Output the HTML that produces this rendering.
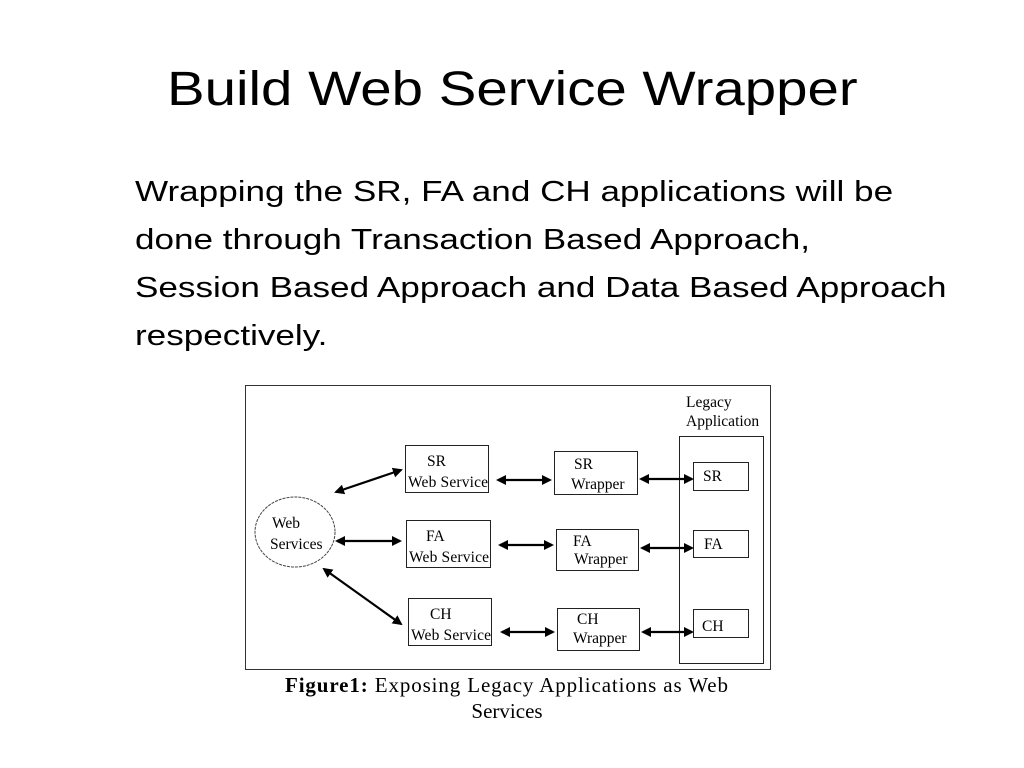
<!DOCTYPE html>
<html><head><style>
body{margin:0;width:1024px;height:768px;background:#fff;position:relative;overflow:hidden;font-family:"Liberation Sans",sans-serif}
h1{position:absolute;top:62px;left:167px;margin:0;font-weight:normal;font-size:48px;color:#000;white-space:nowrap;transform:scaleX(1.175);transform-origin:0 0}
.p{position:absolute;left:135px;top:168px;font-size:29px;line-height:48px;color:#000;white-space:nowrap;transform:scaleX(1.21);transform-origin:0 0}
svg{position:absolute;left:0;top:0}
</style></head><body>
<h1>Build Web Service Wrapper</h1>
<div class="p">Wrapping the SR, FA and CH applications will be<br>done through Transaction Based Approach,<br>Session Based Approach and Data Based Approach<br>respectively.</div>
<svg width="1024" height="768" font-family="Liberation Serif, serif" font-size="15.5">
<defs><marker id="a" markerWidth="10" markerHeight="10" refX="8" refY="5" orient="auto-start-reverse" markerUnits="userSpaceOnUse"><path d="M0,0 L10,5 L0,10 z" fill="#000"/></marker></defs>
<rect x="245.5" y="385.5" width="525" height="284" fill="#fff" stroke="#333"/>
<ellipse cx="295" cy="532" rx="40" ry="35" fill="#fff" stroke="#444" stroke-dasharray="3,1"/>
<text x="272" y="528">Web</text><text x="270" y="549">Services</text>
<g fill="#fff" stroke="#222">
<rect x="405.5" y="445.5" width="83" height="47"/>
<rect x="406.5" y="520.5" width="84" height="47"/>
<rect x="408.5" y="598.5" width="83" height="47"/>
<rect x="554.5" y="451.5" width="83" height="43"/>
<rect x="556.5" y="529.5" width="82" height="41"/>
<rect x="557.5" y="608.5" width="82" height="42"/>
<rect x="679.5" y="436.5" width="84" height="227"/>
<rect x="693.5" y="462.5" width="55" height="28"/>
<rect x="693.5" y="530.5" width="55" height="27"/>
<rect x="693.5" y="609.5" width="55" height="28"/>
</g>
<text x="427" y="466">SR</text><text x="408" y="487" textLength="80">Web Service</text>
<text x="426" y="541">FA</text><text x="409" y="562" textLength="80">Web Service</text>
<text x="430" y="619">CH</text><text x="411" y="640" textLength="80">Web Service</text>
<text x="574" y="469">SR</text><text x="571" y="489">Wrapper</text>
<text x="573" y="546">FA</text><text x="574" y="564">Wrapper</text>
<text x="577" y="624">CH</text><text x="573" y="643">Wrapper</text>
<text x="703" y="481">SR</text><text x="704" y="549">FA</text><text x="702" y="631">CH</text>
<text x="686" y="407">Legacy</text><text x="686" y="426">Application</text>
<g stroke="#000" stroke-width="2.2" marker-start="url(#a)" marker-end="url(#a)">
<line x1="336" y1="492" x2="401" y2="470"/>
<line x1="337" y1="541" x2="400" y2="541"/>
<line x1="324" y1="569" x2="401" y2="624"/>
<line x1="498" y1="480" x2="550" y2="480"/>
<line x1="500" y1="545" x2="552" y2="545"/>
<line x1="502" y1="632" x2="553" y2="632"/>
<line x1="641" y1="479" x2="692" y2="479"/>
<line x1="642" y1="548" x2="692" y2="548"/>
<line x1="643" y1="632" x2="692" y2="632"/>
</g>
<text x="285" y="692" font-size="21" textLength="443"><tspan font-weight="bold">Figure1:</tspan> Exposing Legacy Applications as Web</text>
<text x="507" y="718" font-size="21" text-anchor="middle">Services</text>
</svg>
</body></html>
